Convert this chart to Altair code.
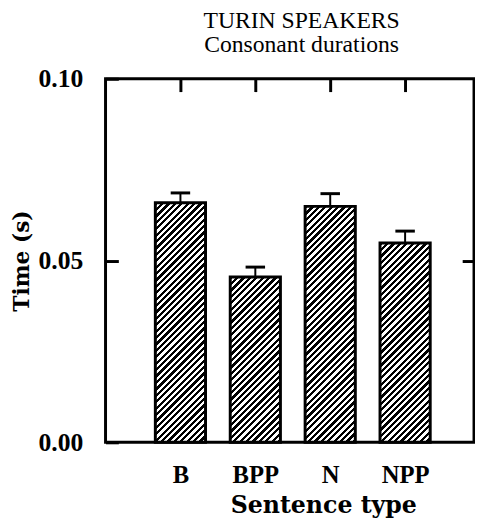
import altair as alt
import pandas as pd

# ---- data ----
categories = ["B", "BPP", "N", "NPP"]
positions = [1, 2, 3, 4]
means = [0.0659, 0.0455, 0.0649, 0.0548]
errors = [0.0027, 0.0027, 0.0035, 0.0033]
y_ticks = [0.0, 0.05, 0.10]

# ---- layout / style constants ----
PLOT_W, PLOT_H = 374, 369
X_MAX, Y_MAX = 4.92, 0.10
BAR_HALF = 0.335
CAP_HALF = 0.13
HATCH_P = 6.5     # hatch period (px)
HATCH_INK = 0.5   # fraction of period that is black

df = pd.DataFrame({"cat": categories, "pos": positions, "mean": means, "err": errors})
df["x_lo"] = df["pos"] - BAR_HALF
df["x_hi"] = df["pos"] + BAR_HALF
df["top"] = df["mean"] + df["err"]
df["cap_lo"] = df["pos"] - CAP_HALF
df["cap_hi"] = df["pos"] + CAP_HALF

px_x = PLOT_W / X_MAX
px_y = PLOT_H / Y_MAX


def hatch(value):
    W = 2 * BAR_HALF * px_x
    H = value * px_y
    L = W + H
    s = L / (W * W + H * H)
    stops = []
    k = 0
    while k * HATCH_P < L:
        a = k * HATCH_P / L
        b = min((k * HATCH_P + HATCH_INK * HATCH_P) / L, 1.0)
        stops += [
            {"offset": a, "color": "white"},
            {"offset": a, "color": "black"},
            {"offset": b, "color": "black"},
            {"offset": b, "color": "white"},
        ]
        k += 1
    return {"gradient": "linear", "x1": 0, "y1": 0, "x2": s * W, "y2": s * H, "stops": stops}


xscale = alt.Scale(domain=[0, X_MAX], nice=False, zero=False)
yscale = alt.Scale(domain=[0, Y_MAX], nice=False, zero=False)

label_expr = "['', 'B', 'BPP', 'N', 'NPP'][datum.value]"

x_bottom = alt.Axis(
    orient="bottom", values=positions, labelExpr=label_expr, ticks=False, domain=False,
    grid=False, labelFlush=False, labelFont="Liberation Serif", labelFontWeight="bold",
    labelFontSize=25, labelColor="black", labelPadding=21,
    title="Sentence type", titleFont="DejaVu Serif", titleFontWeight="bold",
    titleFontSize=24, titleColor="black", titlePadding=6, titleX=221,
)
y_left = alt.Axis(
    orient="left", values=y_ticks, format=".2f", offset=-13, tickSize=13, tickWidth=3,
    tickColor="black", domain=False, grid=False, labelFont="Liberation Serif",
    labelFontWeight="bold", labelFontSize=26, labelColor="black", labelPadding=23,
    labelFlush=False, title="Time (s)", titleFont="DejaVu Serif", titleFontWeight="bold",
    titleFontSize=22, titleColor="black", titlePadding=5,
)
x_top = alt.Axis(
    orient="top", values=positions, offset=-13, tickSize=13, tickWidth=3, tickColor="black",
    labels=False, domain=False, grid=False, title=None,
)
y_right = alt.Axis(
    orient="right", values=[0.05], offset=-12, tickSize=12, tickWidth=3, tickColor="black",
    labels=False, domain=False, grid=False, title=None,
)

base = alt.Chart(df)

bar_layers = []
for i, c in enumerate(categories):
    first = i == 0
    layer = base.transform_filter(alt.datum.cat == c).mark_rect(
        fill=hatch(means[i]), stroke="black", strokeWidth=3
    ).encode(
        x=alt.X("x_lo:Q", scale=xscale, axis=x_bottom if first else None),
        x2="x_hi:Q",
        y=alt.Y("mean:Q", scale=yscale, axis=y_left if first else None),
        y2=alt.datum(0),
    )
    bar_layers.append(layer)

stems = base.mark_rule(color="black", strokeWidth=2).encode(
    x=alt.X("pos:Q", scale=xscale, axis=x_top),
    y=alt.Y("mean:Q", scale=yscale, axis=y_right),
    y2="top:Q",
)
caps = base.mark_rule(color="black", strokeWidth=3).encode(
    x=alt.X("cap_lo:Q", scale=xscale, axis=None),
    x2="cap_hi:Q",
    y=alt.Y("top:Q", scale=yscale, axis=None),
)

chart = alt.layer(*bar_layers, stems, caps).resolve_axis(
    x="independent", y="independent"
).properties(
    width=PLOT_W,
    height=PLOT_H,
    autosize=alt.AutoSizeParams(type="none"),
    padding={"left": 99, "top": 68, "right": 1, "bottom": 75},
    background="white",
    title=alt.TitleParams(
        text="TURIN SPEAKERS", subtitle="Consonant durations",
        font="Liberation Serif", fontSize=24, fontWeight="normal", color="black",
        subtitleFont="Liberation Serif", subtitleFontSize=24, subtitleColor="black",
        subtitlePadding=1, anchor="middle", dx=12, offset=9,
    ),
).configure_view(stroke="black", strokeWidth=3)

chart.save("out.html", embed_options={"renderer": "svg", "actions": False})
